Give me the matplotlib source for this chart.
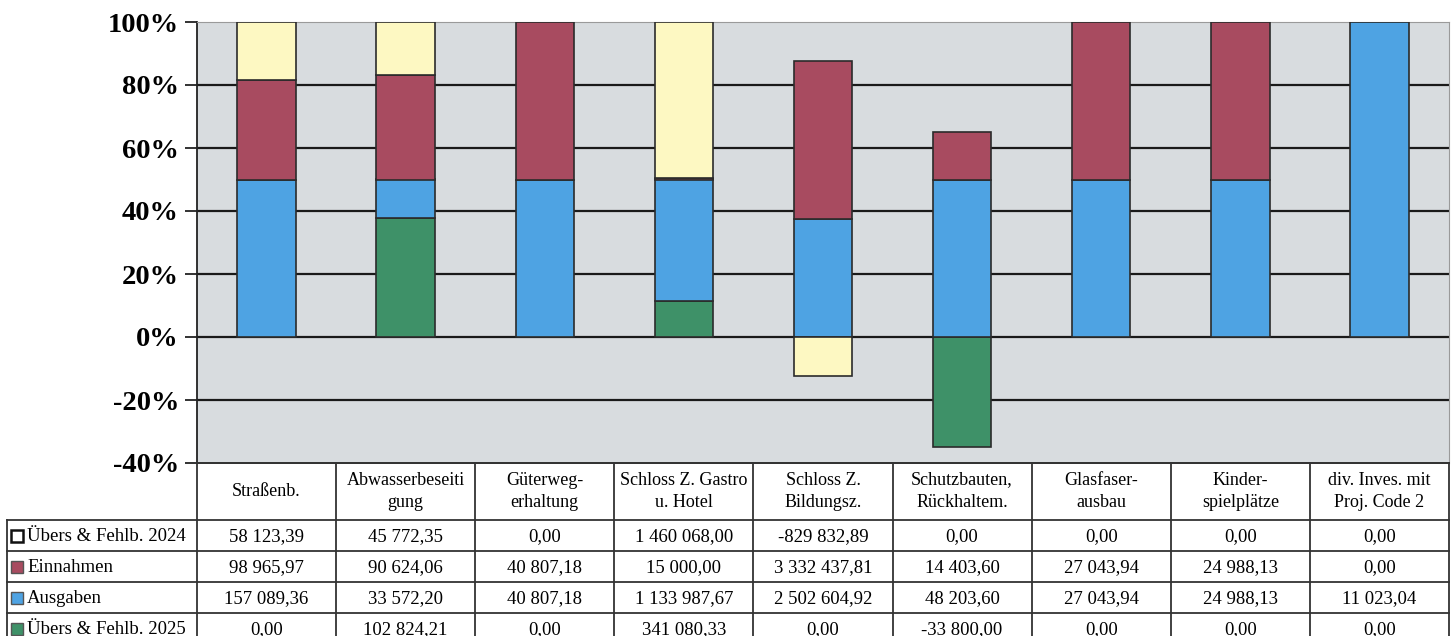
import numpy as np
import matplotlib.pyplot as plt

# data as printed in the chart's table
categories = ["Straßenb.", "Abwasserbeseiti\ngung", "Güterweg-\nerhaltung",
              "Schloss Z. Gastro\nu. Hotel", "Schloss Z.\nBildungsz.",
              "Schutzbauten,\nRückhaltem.", "Glasfaser-\nausbau",
              "Kinder-\nspielplätze", "div. Inves. mit\nProj. Code 2"]
uebers_2024 = [58123.39, 45772.35, 0.00, 1460068.00, -829832.89, 0.00, 0.00, 0.00, 0.00]
einnahmen = [98965.97, 90624.06, 40807.18, 15000.00, 3332437.81, 14403.60, 27043.94, 24988.13, 0.00]
ausgaben = [157089.36, 33572.20, 40807.18, 1133987.67, 2502604.92, 48203.60, 27043.94, 24988.13, 11023.04]
uebers_2025 = [0.00, 102824.21, 0.00, 341080.33, 0.00, -33800.00, 0.00, 0.00, 0.00]
row_labels = ["Übers & Fehlb. 2024", "Einnahmen", "Ausgaben", "Übers & Fehlb. 2025"]
yticks = [-0.4, -0.2, 0.0, 0.2, 0.4, 0.6, 0.8, 1.0]

c_yellow = "#fdf8c2"
c_red = "#a84b60"
c_blue = "#4ea3e3"
c_green = "#3e9168"

plt.rcParams['font.family'] = ['Liberation Serif', 'DejaVu Serif']

W, H = 1454, 636
fig = plt.figure(figsize=(W / 100, H / 100), dpi=100)

# plot area in pixels
px_l, px_r, px_t, px_b = 197, 1449, 22, 463
ax = fig.add_axes([px_l / W, 1 - px_b / H, (px_r - px_l) / W, (px_b - px_t) / H])
ax.set_facecolor("#d8dcdf")

n = len(categories)
x = np.arange(n)

# Excel style 100% stack: share of the sum of absolute values
stack = np.array([uebers_2025, ausgaben, einnahmen, uebers_2024])
stack_colors = [c_green, c_blue, c_red, c_yellow]
share = stack / np.abs(stack).sum(axis=0)

pos_base = np.zeros(n)
neg_base = np.zeros(n)
for s, col in zip(share, stack_colors):
    keep = s != 0
    bottom = np.where(s >= 0, pos_base, neg_base)
    ax.bar(x[keep], s[keep], 0.42, bottom=bottom[keep], color=col,
           edgecolor="#2b2b2b", linewidth=1.2, zorder=3)
    pos_base += np.clip(s, 0, None)
    neg_base += np.clip(s, None, 0)

ax.set_xlim(-0.5, n - 0.5)
ax.set_ylim(-0.4, 1.0)
ax.set_yticks(yticks)
ax.set_yticklabels([f"{round(t * 100)}%" for t in yticks],
                   fontsize=20.5, fontweight="bold")
ax.tick_params(axis="y", direction="out", length=9, width=1.3, pad=4, color="#222222")
ax.set_xticks([])
for t in yticks[1:-1]:
    ax.axhline(t, color="#1a1a1a", linewidth=1.6, zorder=1)

ax.spines["left"].set_color("#222222")
ax.spines["left"].set_linewidth(1.3)
ax.spines["top"].set_color("#9a9a9a")
ax.spines["right"].set_color("#9a9a9a")
ax.spines["bottom"].set_color("#333333")
ax.spines["bottom"].set_linewidth(1.3)

# data table below the plot, columns share the category scale
tab_h = H - px_b
tab = fig.add_axes([px_l / W, 0, (px_r - px_l) / W, tab_h / H])
tab.set_xlim(-0.5, n - 0.5)
tab.set_ylim(tab_h, 0)
tab.axis("off")

cw = (px_r - px_l) / n
x0 = -0.5 - (px_l - 7) / cw
head_h = 57
row_h = 31
line_kw = dict(color="#333333", linewidth=1.3, clip_on=False)

tab.plot([-0.5, n - 0.5], [0, 0], **line_kw)
for i in range(len(row_labels) + 1):
    yy = head_h + i * row_h
    tab.plot([x0, n - 0.5], [yy, yy], **line_kw)
for i in range(n + 1):
    tab.plot([i - 0.5, i - 0.5], [0, tab_h + 10], **line_kw)
tab.plot([x0, x0], [head_h, tab_h + 10], **line_kw)

for i, cat in enumerate(categories):
    tab.text(i, head_h / 2, cat, ha="center", va="center", fontsize=13,
             linespacing=1.45)

def fmt(v):
    return f"{v:,.2f}".replace(",", " ").replace(".", ",")

table_rows = [uebers_2024, einnahmen, ausgaben, uebers_2025]
key_colors = ["white", c_red, c_blue, c_green]
for r, (lab, vals, kc) in enumerate(zip(row_labels, table_rows, key_colors)):
    yc = head_h + (r + 0.5) * row_h
    tab.plot([x0 + 10 / cw], [yc], marker="s", markersize=8, markerfacecolor=kc,
             markeredgecolor="#111111" if r == 0 else "#555555",
             markeredgewidth=1.8 if r == 0 else 1.0, clip_on=False)
    tab.text(x0 + 20 / cw, yc + 1, lab, ha="left", va="center", fontsize=13.5,
             clip_on=False)
    for i, v in enumerate(vals):
        tab.text(i, yc + 1, fmt(v), ha="center", va="center", fontsize=13.5)

fig.savefig("out.png", dpi=100, facecolor="white")
